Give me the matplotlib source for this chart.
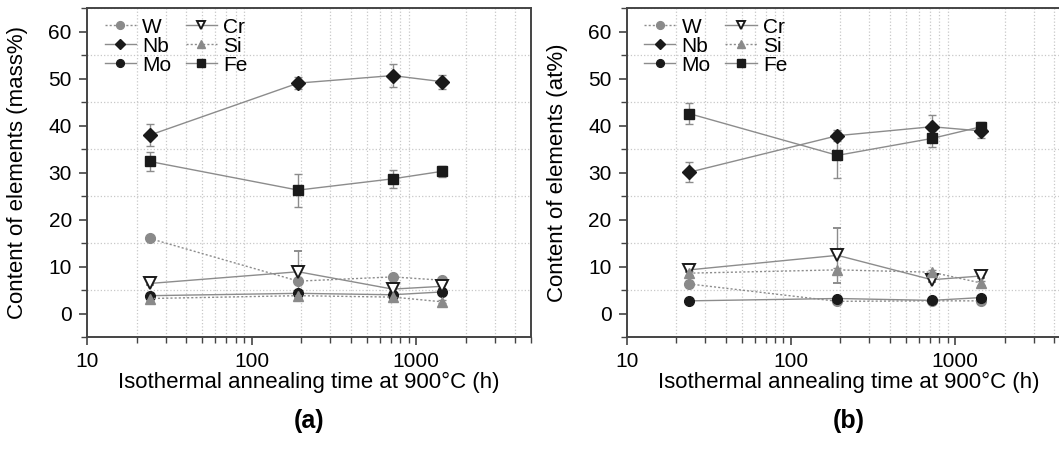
import numpy as np
import matplotlib
matplotlib.use("Agg")
import matplotlib.pyplot as plt
from matplotlib.lines import Line2D
from matplotlib.ticker import FixedLocator, NullFormatter

plt.rcParams['font.family'] = ['Liberation Sans', 'DejaVu Sans']

# annealing times (h)
hours = [24, 192, 720, 1440]
elements = ['W', 'Nb', 'Mo', 'Cr', 'Si', 'Fe']

# (a) mass%
mass_W = [16.0, 6.9, 7.8, 7.1]
mass_Nb = [38.0, 49.1, 50.7, 49.4]
mass_Mo = [3.8, 4.3, 4.0, 4.6]
mass_Cr = [6.4, 8.9, 5.2, 5.8]
mass_Si = [3.2, 3.8, 3.5, 2.5]
mass_Fe = [32.4, 26.3, 28.7, 30.3]
mass_err_W = [0.3, 0.4, 0.4, 0.4]
mass_err_Nb = [2.3, 1.3, 2.4, 1.5]
mass_err_Mo = [0.5, 0.5, 0.4, 0.5]
mass_err_Cr = [0.4, 4.4, 0.6, 0.5]
mass_err_Si = [0.6, 0.4, 0.4, 0.3]
mass_err_Fe = [2.0, 3.5, 1.9, 1.2]

# (b) at%
at_W = [6.3, 2.6, 2.7, 2.7]
at_Nb = [30.1, 37.9, 39.8, 38.9]
at_Mo = [2.7, 3.2, 2.8, 3.4]
at_Cr = [9.3, 12.4, 7.2, 8.0]
at_Si = [8.6, 9.3, 8.8, 6.5]
at_Fe = [42.6, 33.7, 37.3, 39.8]
at_err_W = [0.3, 0.3, 0.3, 0.3]
at_err_Nb = [2.1, 1.1, 2.5, 1.4]
at_err_Mo = [0.3, 0.3, 0.3, 0.3]
at_err_Cr = [0.4, 5.9, 0.5, 0.5]
at_err_Si = [0.4, 0.5, 0.4, 0.4]
at_err_Fe = [2.2, 4.9, 1.9, 1.1]

mass_vals = [mass_W, mass_Nb, mass_Mo, mass_Cr, mass_Si, mass_Fe]
mass_errs = [mass_err_W, mass_err_Nb, mass_err_Mo, mass_err_Cr, mass_err_Si, mass_err_Fe]
at_vals = [at_W, at_Nb, at_Mo, at_Cr, at_Si, at_Fe]
at_errs = [at_err_W, at_err_Nb, at_err_Mo, at_err_Cr, at_err_Si, at_err_Fe]

dotted = (0, (1.5, 1.5))
line_col = '#8c8c8c'
styles = {
    'W':  dict(marker='o', mfc='#8a8a8a', mec='#8a8a8a', ms=7, ls=dotted),
    'Nb': dict(marker='D', mfc='#1a1a1a', mec='#1a1a1a', ms=7, ls='-'),
    'Mo': dict(marker='o', mfc='#1a1a1a', mec='#1a1a1a', ms=7, ls='-'),
    'Cr': dict(marker='v', mfc='white', mec='#1a1a1a', ms=8, mew=1.4, ls='-'),
    'Si': dict(marker='^', mfc='#8a8a8a', mec='#8a8a8a', ms=7, ls=dotted),
    'Fe': dict(marker='s', mfc='#1a1a1a', mec='#1a1a1a', ms=6.5, ls='-'),
}

fig = plt.figure(figsize=(10.59, 4.53), dpi=100)
ax_a = fig.add_axes([0.0822, 0.2561, 0.4193, 0.7252])
ax_b = fig.add_axes([0.5918, 0.2561, 0.4186, 0.7252])

minor_x = [m * 10 ** d for d in range(1, 4) for m in range(2, 10)]


def draw_panel(ax, vals, errs, ylabel, tag):
    handles = []
    for name, v, e in zip(elements, vals, errs):
        st = styles[name]
        ax.errorbar(hours, v, yerr=e, color=line_col, lw=1.0, ls=st['ls'],
                    marker=st['marker'], mfc=st['mfc'], mec=st['mec'],
                    ms=st['ms'], mew=st.get('mew', 1.0),
                    ecolor=line_col, elinewidth=1.0, capsize=3, capthick=1.0,
                    zorder=3)
        handles.append(Line2D([], [], color=line_col, lw=1.0, ls=st['ls'],
                              marker=st['marker'], mfc=st['mfc'], mec=st['mec'],
                              ms=st['ms'] * 0.8, mew=st.get('mew', 1.0),
                              label=name))
    ax.set_xscale('log')
    ax.set_xlim(10, 5000)
    ax.set_ylim(-5, 65)
    ax.set_xticks([10, 100, 1000])
    ax.set_xticklabels(['10', '100', '1000'])
    ax.xaxis.set_minor_locator(FixedLocator(minor_x))
    ax.xaxis.set_minor_formatter(NullFormatter())
    ax.set_yticks(np.arange(0, 61, 10))
    ax.yaxis.set_minor_locator(FixedLocator(np.arange(-5, 66, 10)))
    ax.grid(True, which='minor', ls=':', color='#c8c8c8', lw=0.9)
    ax.grid(False, which='major')
    ax.tick_params(which='major', direction='out', length=6, width=1.2,
                   color='#444444', labelsize=15, pad=5)
    ax.tick_params(which='minor', direction='out', length=4, width=1.0,
                   color='#444444')
    for sp in ax.spines.values():
        sp.set_color('#444444')
        sp.set_linewidth(1.4)
    ax.set_xlabel('Isothermal annealing time at 900°C (h)', fontsize=16)
    ax.set_ylabel(ylabel, fontsize=16)
    ax.xaxis.set_label_coords(0.5, -0.106)
    ax.yaxis.set_label_coords(-0.133, 0.5)
    ax.legend(handles=handles, ncol=2, loc='upper left', frameon=False,
              fontsize=15, handlelength=1.5, handletextpad=0.3,
              columnspacing=0.7, labelspacing=0.0, borderaxespad=0.0,
              borderpad=0.2, bbox_to_anchor=(0.03, 0.985))
    ax.text(0.5, -0.255, tag, transform=ax.transAxes, ha='center', va='center',
            fontsize=18, fontweight='bold')


draw_panel(ax_a, mass_vals, mass_errs, 'Content of elements (mass%)', '(a)')
draw_panel(ax_b, at_vals, at_errs, 'Content of elements (at%)', '(b)')

fig.savefig('out.png', dpi=100)
